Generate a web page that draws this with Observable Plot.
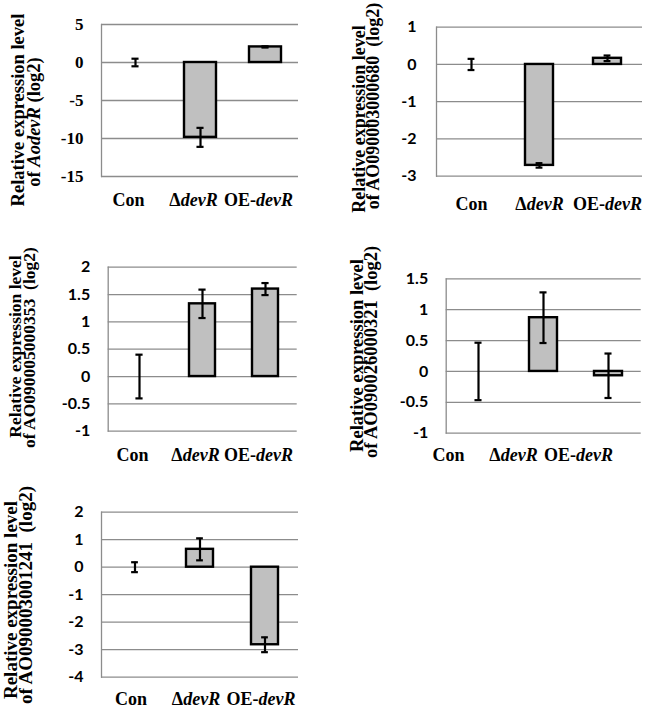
<!DOCTYPE html>
<html><head><meta charset="utf-8">
<script src="https://cdn.jsdelivr.net/npm/d3@7"></script>
<script src="https://cdn.jsdelivr.net/npm/@observablehq/plot@0.6"></script>
<style>
body{margin:0;background:#fff;}
#wrap{position:relative;width:651px;height:711px;background:#fff;overflow:hidden}
#wrap svg{position:absolute;overflow:visible;background:transparent;max-width:none}
</style></head><body><div id="wrap"></div>
<script>
// ---------- data ----------
const categories = ["Con", "ΔdevR", "OE-devR"];
const geneNames = ["AodevR", "AO090003000680", "AO090005000353", "AO090026000321", "AO090003001241"];

const aodevRMean = [0, -9.85, 2.05];
const aodevRErr = [0.5, 1.25, 0.08];
const aodevRTicks = [5, 0, -5, -10, -15];

const ao0680Mean = [0, -2.71, 0.165];
const ao0680Err = [0.15, 0.06, 0.075];
const ao0680Ticks = [1, 0, -1, -2, -3];

const ao0353Mean = [0, 1.33, 1.6];
const ao0353Err = [0.4, 0.26, 0.11];
const ao0353Ticks = [2, 1.5, 1, 0.5, 0, -0.5, -1];

const ao0321Mean = [0, 0.87, -0.07];
const ao0321Err = [0.465, 0.41, 0.36];
const ao0321Ticks = [1.5, 1, 0.5, 0, -0.5, -1];

const ao1241Mean = [0, 0.65, -2.82];
const ao1241Err = [0.18, 0.4, 0.27];
const ao1241Ticks = [2, 1, 0, -1, -2, -3, -4];

// ---------- layout ----------
const SERIF = "'Liberation Serif', 'Times New Roman', serif";
const SANS = "Lato, 'Open Sans', sans-serif";
const GRID = "#8c8c8c";

const panels = [
  {gene: geneNames[0], mean: aodevRMean, err: aodevRErr, ticks: aodevRTicks, italicGene: true,
   left: 0, top: 0, width: 325, height: 230, ml: 101, mr: 27, mt: 24, mb: 54, pad: 0.514,
   tickFont: SERIF, tickFs: 17, tickPad: 18, xPad: 17.2, xdx: -7, titleFs: 18.5,
   t1: [24, 110], t2: [40, 122]},
  {gene: geneNames[1], mean: ao0680Mean, err: ao0680Err, ticks: ao0680Ticks,
   left: 330, top: 0, width: 321, height: 230, ml: 106, mr: 9, mt: 26.7, mb: 54.3, pad: 0.59,
   tickFont: SANS, tickFs: 16, tickPad: 20, xPad: 21.5, xdx: 0, titleFs: 18,
   t1: [35, 119], t2: [49, 106]},
  {gene: geneNames[2], mean: ao0353Mean, err: ao0353Err, ticks: ao0353Ticks,
   left: 0, top: 230, width: 325, height: 240, ml: 107.7, mr: 28.3, mt: 36.7, mb: 39.3, pad: 0.59,
   tickFont: SANS, tickFs: 16, tickPad: 18, xPad: 17.5, xdx: -7, titleFs: 17.5,
   t1: [21, 116.5], t2: [35, 117.5]},
  {gene: geneNames[3], mean: ao0321Mean, err: ao0321Err, ticks: ao0321Ticks,
   left: 330, top: 230, width: 321, height: 240, ml: 115.7, mr: 10.3, mt: 48.3, mb: 37.3, pad: 0.57,
   tickFont: SANS, tickFs: 16, tickPad: 18, xPad: 15.5, xdx: -30, titleFs: 18.5,
   t1: [33, 125.5], t2: [47, 122]},
  {gene: geneNames[4], mean: ao1241Mean, err: ao1241Err, ticks: ao1241Ticks,
   left: 0, top: 470, width: 325, height: 241, ml: 101, mr: 27, mt: 41.7, mb: 34.3, pad: 0.585,
   tickFont: SANS, tickFs: 16, tickPad: 18, xPad: 15.5, xdx: -4, titleFs: 19,
   t1: [17, 130], t2: [32, 125]}
];

const wrap = document.getElementById("wrap");

for (const p of panels) {
  const rows = categories.map((c, i) => ({cat: c, mean: p.mean[i], err: p.err[i]}));
  const plotW = p.width - p.ml - p.mr;
  const bw = (plotW / categories.length) * (1 - p.pad);
  const capInset = Math.max(0, (bw - 7) / 2);
  const yDomain = [d3.min(p.ticks), d3.max(p.ticks)];

  const svg = Plot.plot({
    width: p.width,
    height: p.height,
    marginLeft: p.ml, marginRight: p.mr, marginTop: p.mt, marginBottom: p.mb,
    style: {background: "transparent", color: "#000"},
    x: {domain: categories, paddingInner: p.pad, paddingOuter: p.pad / 2, label: null},
    y: {domain: yDomain, label: null},
    marks: [
      Plot.gridY(p.ticks, {stroke: GRID, strokeOpacity: 1, strokeWidth: 1.3}),
      Plot.frame({anchor: "left", stroke: GRID, strokeWidth: 1.3}),
      Plot.barY(rows.filter(d => d.mean !== 0), {x: "cat", y: "mean", fill: "#c0c0c0", stroke: "#000", strokeWidth: 2.4}),
      Plot.ruleX(rows, {x: "cat", y1: d => d.mean - d.err, y2: d => d.mean + d.err, stroke: "#000", strokeWidth: 2.2}),
      Plot.tickY(rows, {x: "cat", y: d => d.mean + d.err, inset: capInset, stroke: "#000", strokeWidth: 2.2}),
      Plot.tickY(rows, {x: "cat", y: d => d.mean - d.err, inset: capInset, stroke: "#000", strokeWidth: 2.2}),
      Plot.axisY(p.ticks, {tickSize: 0, tickPadding: p.tickPad, tickFormat: d => String(d),
        fontSize: p.tickFs, fontFamily: p.tickFont, fontWeight: "bold", fill: "#000"}),
      Plot.axisX({tickSize: 0, tickPadding: p.xPad, dx: p.xdx, tickFormat: d => d,
        fontSize: 18, fontFamily: SERIF, fontWeight: "bold", fill: "#000"})
    ]
  });
  svg.style.left = p.left + "px";
  svg.style.top = p.top + "px";
  svg.style.width = p.width + "px";
  svg.style.height = p.height + "px";

  const s = d3.select(svg);
  // italic "devR" in category labels
  s.selectAll('g[aria-label="x-axis tick label"] text').each(function () {
    const t = this.textContent;
    const m = t.match(/^(.*?)(devR)$/);
    if (m) {
      const sel = d3.select(this);
      sel.text(null);
      sel.append("tspan").text(m[1]);
      sel.append("tspan").attr("font-style", "italic").text(m[2]);
    }
  });

  // rotated two-line y-axis title
  const g = s.append("g")
    .attr("font-family", SERIF).attr("font-weight", "bold")
    .attr("font-size", p.titleFs).attr("text-anchor", "middle").attr("fill", "#000");
  g.append("text").attr("transform", `translate(${p.t1[0]},${p.t1[1]}) rotate(-90)`)
    .text("Relative expression level");
  const t2 = g.append("text").attr("transform", `translate(${p.t2[0]},${p.t2[1]}) rotate(-90)`);
  if (p.italicGene) {
    t2.append("tspan").text("of ");
    t2.append("tspan").attr("font-style", "italic").text(p.gene);
    t2.append("tspan").text(" (log2)");
  } else {
    t2.append("tspan").text("of " + p.gene + "\u00a0\u00a0(log2)");
  }
  wrap.appendChild(svg);
}
</script>
</body></html>
